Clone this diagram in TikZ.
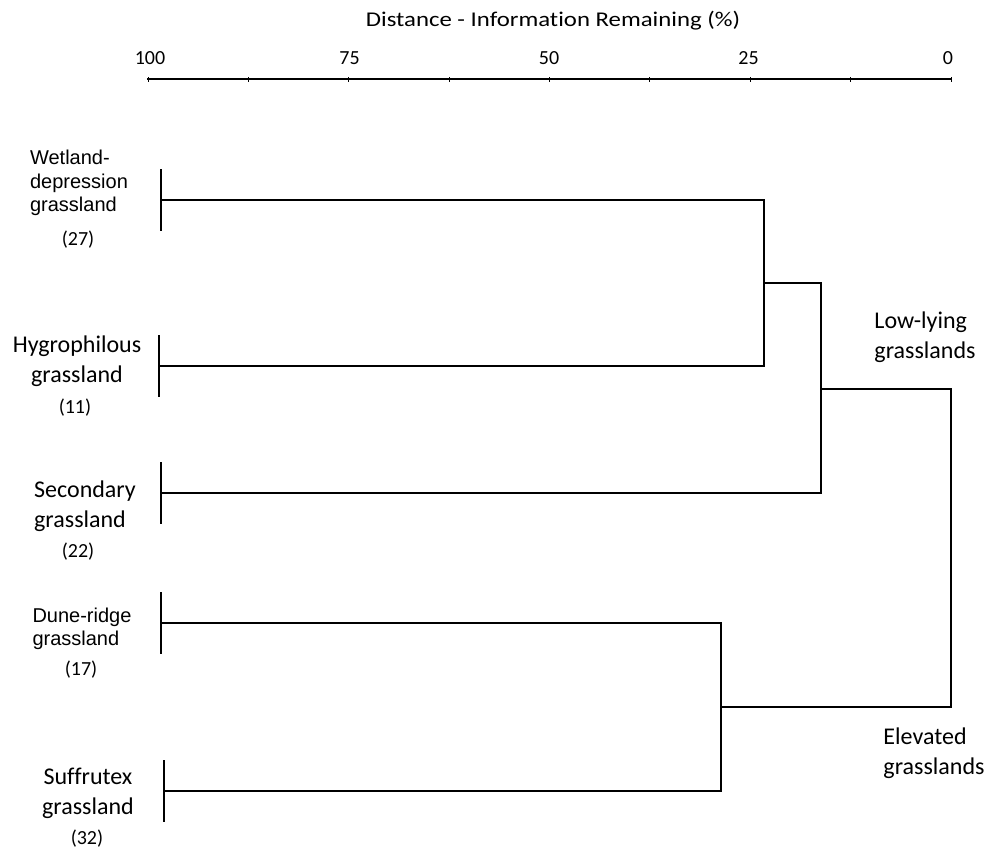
\documentclass[tikz,border=0pt]{standalone}
\usepackage{fontspec}
\setmainfont{Carlito}[Ligatures=NoCommon]
\newfontfamily\arialfont{Liberation Sans}
\newfontfamily\titlefont{Carlito}[FakeStretch=1.18, Ligatures=NoCommon]

\tikzset{
  tree/.style={line width=1.3pt, line cap=rect},
  leafname/.style={font=\fontsize{24}{30}\selectfont, align=center, inner sep=0pt},
  leafarial/.style={font=\arialfont\fontsize{20}{23.5}\selectfont, align=left, inner sep=0pt},
  leafcount/.style={font=\fontsize{20}{24}\selectfont, inner sep=0pt},
  axislabel/.style={font=\fontsize{20}{24}\selectfont, inner sep=0pt},
}

\begin{document}
\begin{tikzpicture}[x=1pt, y=-1pt]
    \useasboundingbox (0,0) rectangle (990,854);

    % 坐标轴
    \node[font=\titlefont\fontsize{21}{25}\selectfont, inner sep=0pt] (title) at (553,21) {Distance - Information Remaining (\%)};
    \draw[tree] (148,79) -- (951,79);
    \foreach \i/\t in {0/100,2/75,4/50,6/25,8/0} {
        \node[axislabel] (tick\i) at (150+99.75*\i,58) {\t};
    }
    \foreach \i in {0,...,8} {
        \draw[line width=1pt] (148+100.375*\i,77) -- (148+100.375*\i,82);
    }

    % 叶子标签
    \node[leafarial] (wet) at (79,183) {Wetland-\\depression\\grassland};
    \node[leafcount] (wet-n) at (78,240) {(27)};
    \node[leafname] (hyg) at (77,361) {Hygrophilous\\grassland};
    \node[leafcount] (hyg-n) at (75,408) {(11)};
    \node[leafname, align=left] (sec) at (85,506) {Secondary\\grassland};
    \node[leafcount] (sec-n) at (78,552) {(22)};
    \node[leafarial] (dune) at (82,629) {Dune-ridge\\grassland};
    \node[leafcount] (dune-n) at (81,670) {(17)};
    \node[leafname] (suf) at (88,793) {Suffrutex\\grassland};
    \node[leafcount] (suf-n) at (87,839) {(32)};

    % 分组标签
    \node[leafname, align=left] (low) at (925,337) {Low-lying\\grasslands};
    \node[leafname, align=left] (elev) at (934,753) {Elevated\\grasslands};

    % 叶子端点
    \coordinate (wet-bar) at (161,200);
    \coordinate (hyg-bar) at (159,366);
    \coordinate (sec-bar) at (161,493);
    \coordinate (dune-bar) at (161,623);
    \coordinate (suf-bar) at (164,791);
    \foreach \b in {wet-bar,hyg-bar,sec-bar,dune-bar,suf-bar} {
        \draw[tree] (\b) ++(0,-30) -- ++(0,60);
    }

    % 合并点
    \coordinate (j1) at (764,283);
    \coordinate (j2) at (821,389);
    \coordinate (j3) at (721,707);
    \coordinate (root) at (951,548);

    % 绘制树状图
    \draw[tree] (wet-bar) -| (j1);
    \draw[tree] (hyg-bar) -| (j1);
    \draw[tree] (j1) -| (j2);
    \draw[tree] (sec-bar) -| (j2);
    \draw[tree] (dune-bar) -| (j3);
    \draw[tree] (suf-bar) -| (j3);
    \draw[tree] (j2) -| (root);
    \draw[tree] (j3) -| (root);
\end{tikzpicture}
\end{document}
